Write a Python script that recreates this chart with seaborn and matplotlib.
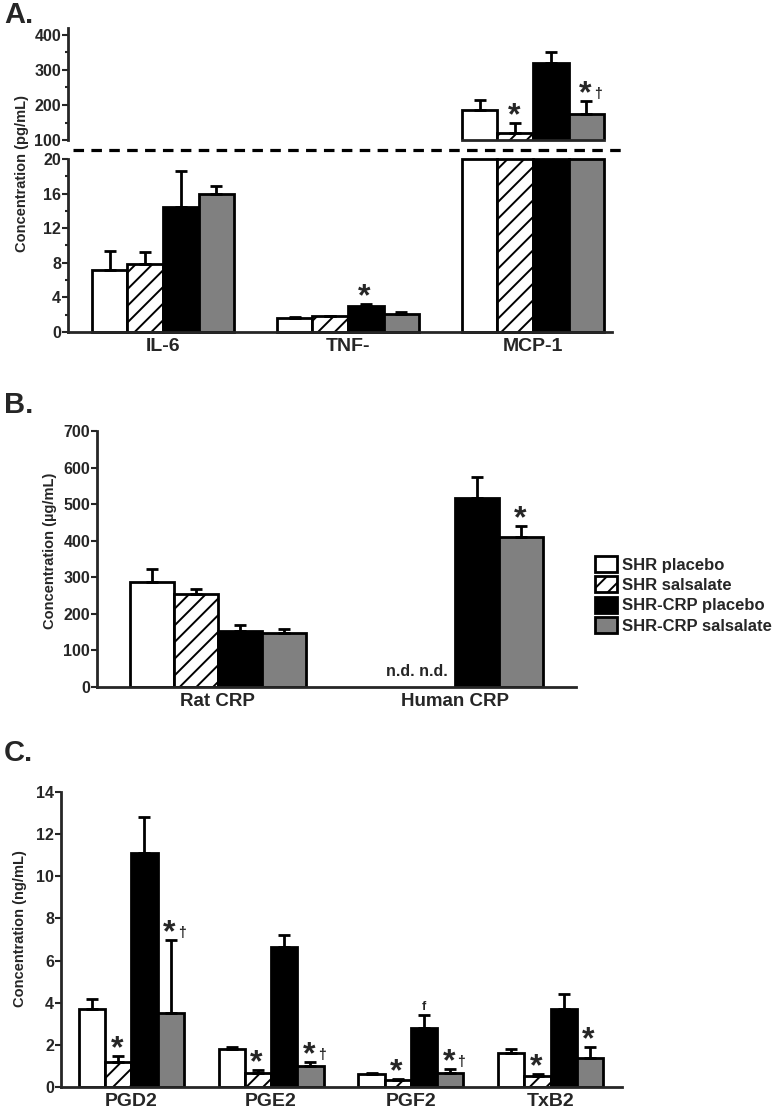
import numpy as np
import pandas as pd
import matplotlib
matplotlib.use("Agg")
import matplotlib.pyplot as plt
import seaborn as sns
from matplotlib.patches import Patch
from matplotlib.lines import Line2D
from matplotlib.ticker import MultipleLocator

# ---------------- data ----------------
groups = ["SHR placebo", "SHR salsalate", "SHR-CRP placebo", "SHR-CRP salsalate"]
group_colors = ["white", "white", "black", "#808080"]
group_hatches = ["", "//", "", ""]

# Panel A (pg/mL)
a_cats = ["IL-6", "TNF-", "MCP-1"]
a_shr_placebo = [7.2, 1.65, 186]
a_shr_salsalate = [7.9, 1.8, 120]
a_crp_placebo = [14.4, 3.0, 321]
a_crp_salsalate = [15.9, 2.1, 174]
a_err_shr_placebo = [2.2, 0.1, 28]
a_err_shr_salsalate = [1.4, 0.05, 29]
a_err_crp_placebo = [4.2, 0.2, 30]
a_err_crp_salsalate = [1.0, 0.2, 37]
a_marks = [(1, 2, "*"), (2, 1, "*"), (2, 3, "*†")]

# Panel B (ug/mL)
b_cats = ["Rat CRP", "Human CRP"]
b_shr_placebo = [288, np.nan]
b_shr_salsalate = [255, np.nan]
b_crp_placebo = [153, 516]
b_crp_salsalate = [148, 411]
b_err_shr_placebo = [34, np.nan]
b_err_shr_salsalate = [13, np.nan]
b_err_crp_placebo = [17, 57]
b_err_crp_salsalate = [11, 30]
b_marks = [(1, 3, "*")]

# Panel C (ng/mL)
c_cats = ["PGD2", "PGE2", "PGF2", "TxB2"]
c_shr_placebo = [3.7, 1.8, 0.62, 1.63]
c_shr_salsalate = [1.18, 0.68, 0.33, 0.52]
c_crp_placebo = [11.1, 6.63, 2.82, 3.7]
c_crp_salsalate = [3.5, 1.0, 0.68, 1.4]
c_err_shr_placebo = [0.5, 0.12, 0.06, 0.17]
c_err_shr_salsalate = [0.3, 0.12, 0.05, 0.08]
c_err_crp_placebo = [1.7, 0.57, 0.58, 0.71]
c_err_crp_salsalate = [3.5, 0.17, 0.17, 0.5]
c_marks = [(0, 1, "*"), (0, 3, "*†"), (1, 1, "*"), (1, 3, "*†"), (2, 1, "*"),
           (2, 2, "f"), (2, 3, "*†"), (3, 1, "*"), (3, 3, "*")]


def long_df(cats, series, errs):
    rows = []
    for g, vals, ers in zip(groups, series, errs):
        for c, v, e in zip(cats, vals, ers):
            rows.append({"cat": c, "group": g, "val": v, "err": e})
    return pd.DataFrame(rows)


dfA = long_df(a_cats, [a_shr_placebo, a_shr_salsalate, a_crp_placebo, a_crp_salsalate],
              [a_err_shr_placebo, a_err_shr_salsalate, a_err_crp_placebo, a_err_crp_salsalate])
dfB = long_df(b_cats, [b_shr_placebo, b_shr_salsalate, b_crp_placebo, b_crp_salsalate],
              [b_err_shr_placebo, b_err_shr_salsalate, b_err_crp_placebo, b_err_crp_salsalate])
dfC = long_df(c_cats, [c_shr_placebo, c_shr_salsalate, c_crp_placebo, c_crp_salsalate],
              [c_err_shr_placebo, c_err_shr_salsalate, c_err_crp_placebo, c_err_crp_salsalate])

# ---------------- style ----------------
sns.set_style("ticks")
NARROW = ["Liberation Sans Narrow", "Liberation Sans", "DejaVu Sans"]
WIDE = ["Liberation Sans", "DejaVu Sans"]
plt.rcParams["font.family"] = NARROW
plt.rcParams["font.weight"] = "bold"
plt.rcParams["hatch.linewidth"] = 1.4

W, H = 772, 1112
fig = plt.figure(figsize=(W / 100, H / 100), dpi=100)


def add_ax(l, r, t, b):
    return fig.add_axes([l / W, 1 - b / H, (r - l) / W, (b - t) / H])


def draw(ax, df, cats, width, clip=True):
    d = df.dropna(subset=["val"])
    sns.barplot(data=d, x="cat", y="val", hue="group", order=cats, hue_order=groups,
                palette=group_colors, saturation=1, width=width, errorbar=None,
                edgecolor="black", linewidth=2, legend=False, ax=ax)
    bar_conts = list(ax.containers)
    pos = {}
    for gi, cont in enumerate(bar_conts):
        for p in cont.patches:
            xc = p.get_x() + p.get_width() / 2
            ci = int(round(xc))
            p.set_hatch(group_hatches[gi])
            p.set_clip_on(clip)
            row = d[(d["cat"] == cats[ci]) & (d["group"] == groups[gi])].iloc[0]
            pos[(ci, gi)] = (xc, row["val"] + row["err"], p)
            if row["err"] > 0:
                ax.errorbar([xc], [row["val"]], yerr=[[0], [row["err"]]], fmt="none",
                            ecolor="black", elinewidth=2, capsize=4, capthick=2,
                            clip_on=clip, zorder=1)
    return pos


def style(ax, labelsize=14):
    ax.set_xlabel("")
    ax.set_ylabel("")
    for s in ["top", "right"]:
        ax.spines[s].set_visible(False)
    for s in ["left", "bottom"]:
        ax.spines[s].set_linewidth(2)
    ax.tick_params(axis="y", which="major", direction="out", length=4, width=1.5,
                   labelsize=11.5, pad=1)
    ax.tick_params(axis="y", which="minor", direction="out", length=2.5, width=1.5)
    ax.tick_params(axis="x", length=0, labelsize=labelsize, pad=4)


def marks(ax, pos, mlist):
    for ci, gi, txt in mlist:
        xc, top, p = pos[(ci, gi)]
        if txt == "f":
            ax.annotate("f", xy=(xc, top), xytext=(0, 2), textcoords="offset points",
                        ha="center", va="bottom", fontsize=9, annotation_clip=False)
            continue
        ax.annotate("*", xy=(xc, top), xytext=(-1, -6), textcoords="offset points",
                    ha="center", va="bottom", fontsize=23, annotation_clip=False)
        if "†" in txt:
            ax.annotate("†", xy=(xc, top), xytext=(8, 0), textcoords="offset points",
                        ha="center", va="bottom", fontsize=10, annotation_clip=False)


# ---------------- Panel A ----------------
axAt = add_ax(68, 612, 28, 140)
posAt = draw(axAt, dfA, a_cats, 0.77)
axAt.set_ylim(100, 420)
axAt.set_xlim(-0.514, 2.427)
style(axAt)
axAt.set_xticks([])
axAt.yaxis.set_major_locator(MultipleLocator(100))
axAt.yaxis.set_minor_locator(MultipleLocator(50))
xs = [posAt[(2, g)][2] for g in range(4)]
axAt.spines["bottom"].set_bounds(xs[0].get_x(), xs[-1].get_x() + xs[-1].get_width())
marks(axAt, posAt, [m for m in a_marks if m[0] == 2])

dfA_low = dfA.copy()
dfA_low["val"] = np.minimum(dfA_low["val"], 20)
dfA_low.loc[dfA["val"] > 20, "err"] = 0
axAb = add_ax(68, 612, 159, 332)
posAb = draw(axAb, dfA_low, a_cats, 0.77, clip=False)
axAb.set_ylim(0, 20)
axAb.set_xlim(-0.514, 2.427)
style(axAb)
axAb.yaxis.set_major_locator(MultipleLocator(4))
axAb.yaxis.set_minor_locator(MultipleLocator(2))
marks(axAb, posAb, [m for m in a_marks if m[0] != 2])

fig.add_artist(Line2D([73 / W, 622 / W], [1 - 150 / H] * 2, color="black", lw=2.3,
                      linestyle=(0, (3.3, 2.3))))

# ---------------- Panel B ----------------
axB = add_ax(97, 576, 431, 687)
posB = draw(axB, dfB, b_cats, 0.745)
axB.set_ylim(0, 700)
axB.set_xlim(-0.51, 1.51)
style(axB, labelsize=13.5)
axB.yaxis.set_major_locator(MultipleLocator(100))
marks(axB, posB, b_marks)
bx = posB[(1, 2)][2].get_x()
axB.annotate("n.d. n.d.", xy=(bx, 0), xytext=(-5, 6), textcoords="offset points",
             ha="right", va="bottom", fontsize=11.5)

# ---------------- Panel C ----------------
axC = add_ax(61, 622, 792, 1087)
posC = draw(axC, dfC, c_cats, 0.75)
axC.set_ylim(0, 14)
axC.set_xlim(-0.503, 3.51)
style(axC, labelsize=14)
axC.yaxis.set_major_locator(MultipleLocator(2))
marks(axC, posC, c_marks)

# ---------------- texts ----------------
fig.text(4 / W, 1 - 1 / H, "A.", ha="left", va="top", fontsize=21)
fig.text(4 / W, 1 - 391 / H, "B.", ha="left", va="top", fontsize=21)
fig.text(4 / W, 1 - 739 / H, "C.", ha="left", va="top", fontsize=21)

fig.text(22 / W, 1 - 173 / H, "Concentration (pg/mL)", rotation=90, ha="center",
         va="center", fontsize=10.5, family=WIDE, fontweight="bold")
fig.text(50 / W, 1 - 551 / H, "Concentration (µg/mL)", rotation=90, ha="center",
         va="center", fontsize=10.5, family=WIDE, fontweight="bold")
fig.text(20 / W, 1 - 929 / H, "Concentration (ng/mL)", rotation=90, ha="center",
         va="center", fontsize=10.5, family=WIDE, fontweight="bold")

handles = [Patch(facecolor=c, edgecolor="black", hatch=h, linewidth=2)
           for c, h in zip(group_colors, group_hatches)]
fig.legend(handles=handles, labels=groups, loc="upper left",
           bbox_to_anchor=(595 / W, 1 - 556 / H), frameon=False, fontsize=12,
           handlelength=1.3, handleheight=1.1, handletextpad=0.3,
           labelspacing=0.22, borderpad=0, borderaxespad=0)

fig.savefig("out.png", dpi=100)
